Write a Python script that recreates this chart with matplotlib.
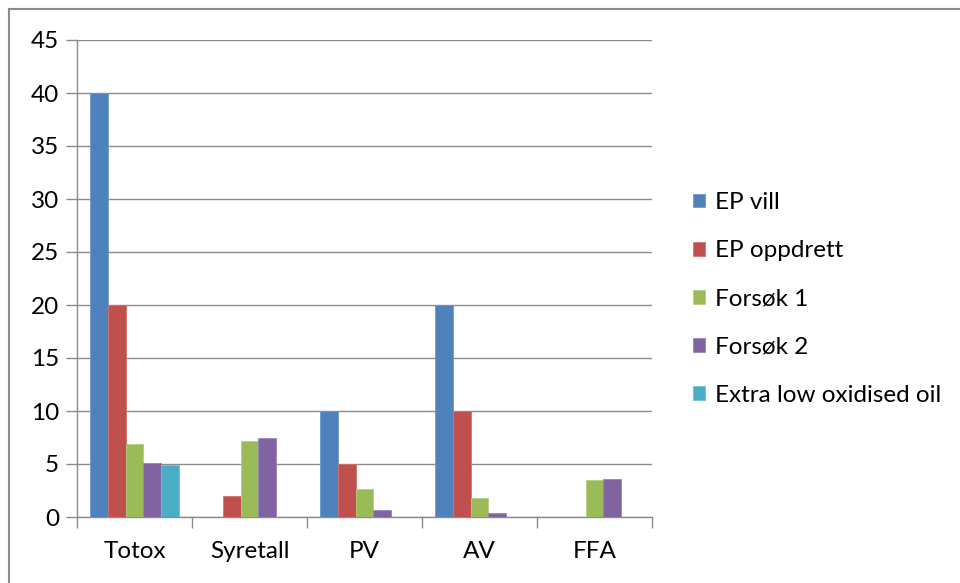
import matplotlib
matplotlib.use("Agg")
import matplotlib.pyplot as plt
import numpy as np
from matplotlib.lines import Line2D

plt.rcParams['font.family'] = ['Lato', 'DejaVu Sans']

categories = ["Totox", "Syretall", "PV", "AV", "FFA"]
series_names = ["EP vill", "EP oppdrett", "Forsøk 1", "Forsøk 2", "Extra low oxidised oil"]
ep_vill = [40, 0, 10, 20, 0]
ep_oppdrett = [20, 2.0, 5, 10, 0]
forsok1 = [6.9, 7.15, 2.6, 1.8, 3.5]
forsok2 = [5.1, 7.5, 0.65, 0.4, 3.6]
extra_low = [4.95, 0, 0, 0, 0]
values = [ep_vill, ep_oppdrett, forsok1, forsok2, extra_low]
colors = ["#4F81BD", "#C0504D", "#9BBB59", "#8064A2", "#4BACC6"]
edge_colors = ["#6C98CF", "#D37370", "#B3CE7A", "#9B82BC", "#6EC3DB"]
yticks = [0, 5, 10, 15, 20, 25, 30, 35, 40, 45]

W, H = 960, 583
FS = 17.5
fig = plt.figure(figsize=(W / 100, H / 100), dpi=100)
ax = fig.add_axes([77 / W, 1 - 517 / H, (652 - 77) / W, (517 - 40) / H])

x = np.arange(len(categories))
bw = 0.154
n = len(values)
for i, (vals, c, ec, name) in enumerate(zip(values, colors, edge_colors, series_names)):
    offs = (i - (n - 1) / 2) * bw
    ax.bar(x + offs, vals, width=bw, color=c, edgecolor=ec, linewidth=0.6,
           label=name, zorder=3)

ax.set_xlim(-0.5, len(categories) - 0.5)
ax.set_ylim(0, 45)
ax.set_yticks(yticks)
ax.yaxis.grid(True, color="#8C8C8C", linewidth=1.0, zorder=0)
ax.set_axisbelow(True)

ax.set_xticks(x)
ax.set_xticklabels(categories, fontsize=FS, color="#000000")
ax.tick_params(axis='x', which='major', length=0, pad=17)
ax.set_xticks(np.arange(-0.5, len(categories)), minor=True)
ax.tick_params(axis='x', which='minor', length=8, color="#8C8C8C", width=1.0, direction='out')
ax.tick_params(axis='y', length=8, color="#8C8C8C", width=1.0, direction='out',
               labelsize=FS, pad=5)

for s in ['top', 'right']:
    ax.spines[s].set_visible(False)
for s in ['left', 'bottom']:
    ax.spines[s].set_color("#8C8C8C")
    ax.spines[s].set_linewidth(1.0)

leg = ax.legend(loc='upper left', bbox_to_anchor=(681 / W, 1 - 180 / H),
                bbox_transform=fig.transFigure, frameon=False, fontsize=FS,
                handlelength=0.5, handleheight=0.5, handletextpad=0.4,
                labelspacing=1.12, borderpad=0)

# outer chart frame
fig.add_artist(Line2D([9 / W, 9 / W], [0, 1 - 9 / H], transform=fig.transFigure,
                      color="#8C8C8C", linewidth=1.5))
fig.add_artist(Line2D([9 / W, 1], [1 - 9 / H, 1 - 9 / H], transform=fig.transFigure,
                      color="#8C8C8C", linewidth=1.5))

fig.savefig("out.png", dpi=100)
